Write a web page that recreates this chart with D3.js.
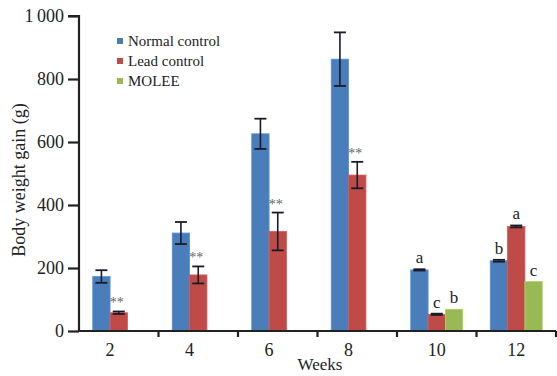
<!DOCTYPE html>
<html lang="en">
<head>
<meta charset="UTF-8">
<title>Body weight gain</title>
<script src="https://d3js.org/d3.v7.min.js"></script>
<style>
  body { margin: 0; background: #fff; }
  svg text { font-family: "Liberation Serif", "Times New Roman", Times, serif; fill: #222; }
</style>
</head>
<body>
<svg id="chart" width="557" height="376"></svg>
<script>
    const weeks = ["2", "4", "6", "8", "10", "12"];
    const seriesNames = ["Normal control", "Lead control", "MOLEE"];
    const colors = ["#4a7ebb", "#be4b48", "#98b954"];

    // mean values per series (null = no bar)
    const normalVals = [173, 311, 626, 863, 194, 223];
    const leadVals = [58, 178, 316, 495, 53, 332];
    const moleeVals = [null, null, null, null, 69, 157];

    const normalErr = [20, 35, 48, 85, 2, 3];
    const leadErr = [4, 27, 60, 42, 2, 3];
    const moleeErr = [0, 0, 0, 0, 0, 0];

    const normalMarks = ["", "", "", "", "a", "b"];
    const leadMarks = ["**", "**", "**", "**", "c", "a"];
    const moleeMarks = ["", "", "", "", "b", "c"];

    const yTicks = [0, 200, 400, 600, 800, 1000];

    const svg = d3.select("#chart");
    const margin = { left: 79, right: 1, top: 16, bottom: 45 };
    const width = 557, height = 376;
    const serif = "'Liberation Serif', 'Times New Roman', serif";

    const x = d3.scaleBand().domain(weeks).range([margin.left, width - margin.right]).padding(0);
    const sub = d3.scaleBand().domain([0, 1, 2]).range([0, 52]);
    const y = d3.scaleLinear().domain([0, 1000]).range([height - margin.bottom, margin.top]);

    const series = [
        { vals: normalVals, err: normalErr, marks: normalMarks },
        { vals: leadVals, err: leadErr, marks: leadMarks },
        { vals: moleeVals, err: moleeErr, marks: moleeMarks }
    ];

    const barX = (w, i) => x(w) + x.bandwidth() / 2 - 26 + sub(i);

    // tick label sits under the centre of the bars present in the group
    const labelX = {};
    weeks.forEach((w, j) => {
        const present = series.map((s, i) => s.vals[j] === null ? null : barX(w, i) + sub.bandwidth() / 2)
            .filter(c => c !== null);
        labelX[w] = d3.mean(present);
    });

    const g = svg.append("g");

    series.forEach((s, i) => {
        weeks.forEach((w, j) => {
            const v = s.vals[j];
            if (v === null) return;
            const x0 = barX(w, i);
            const bw = sub.bandwidth();
            g.append("rect")
                .attr("x", x0).attr("y", y(v))
                .attr("width", bw).attr("height", y(0) - y(v))
                .attr("fill", colors[i])
                .attr("stroke", d3.color(colors[i]).brighter(0.4))
                .attr("stroke-width", 0.8);

            const e = s.err[j];
            const cx = x0 + bw / 2;
            if (e > 0) {
                g.append("line").attr("x1", cx).attr("x2", cx)
                    .attr("y1", y(v + e)).attr("y2", y(v - e))
                    .attr("stroke", "#1a1a2a").attr("stroke-width", 1.6);
                [v + e, v - e].forEach(t => {
                    g.append("line").attr("x1", cx - 6).attr("x2", cx + 6)
                        .attr("y1", y(t)).attr("y2", y(t))
                        .attr("stroke", "#1a1a2a").attr("stroke-width", 1.8);
                });
            }

            const m = s.marks[j];
            if (m) {
                const isStar = m === "**";
                g.append("text")
                    .attr("x", cx + (isStar ? -2 : 0))
                    .attr("y", y(v + e) - (isStar ? 4 : 6))
                    .attr("text-anchor", "middle")
                    .attr("font-family", serif)
                    .style("font-size", isStar ? "14px" : "17px")
                    .style("fill", isStar ? "#666" : "#222")
                    .text(m);
            }
        });
    });

    // y axis
    const yAxis = d3.axisLeft(y).tickValues(yTicks).tickSize(11).tickPadding(4)
        .tickFormat(d => d === 1000 ? "1\u2009000" : d);
    const ya = svg.append("g").attr("transform", `translate(${margin.left},0)`).call(yAxis)
        .attr("font-family", serif);
    ya.select(".domain").attr("stroke", "#222").attr("stroke-width", 2.2).attr("d", `M-11,${y(1000)}H0V${y(0)}`);
    ya.selectAll(".tick line").attr("stroke", "#222").attr("stroke-width", 2.2);
    ya.selectAll(".tick text").style("font-size", "18px");

    // x axis
    const xa = svg.append("g").attr("transform", `translate(0,${y(0)})`)
        .call(d3.axisBottom(x).tickSize(0).tickPadding(12))
        .attr("font-family", serif);
    xa.select(".domain").attr("stroke", "#222").attr("stroke-width", 2.2)
        .attr("d", `M${margin.left},0H${width - margin.right}`);
    xa.selectAll(".tick").attr("transform", d => `translate(${labelX[d]},0)`);
    xa.selectAll(".tick text").style("font-size", "18px");
    weeks.forEach(w => {
        xa.append("line").attr("x1", x(w) + x.bandwidth()).attr("x2", x(w) + x.bandwidth())
            .attr("y1", 0).attr("y2", 6).attr("stroke", "#222").attr("stroke-width", 2.2);
    });

    // axis titles
    svg.append("text").attr("x", 320).attr("y", 370).attr("text-anchor", "middle")
        .attr("font-family", serif).style("font-size", "17px").text("Weeks");
    svg.append("text").attr("transform", "translate(25,180) rotate(-90)").attr("text-anchor", "middle")
        .attr("font-family", serif).style("font-size", "18px").text("Body weight gain (g)");

    // legend
    const leg = svg.append("g").attr("transform", "translate(117,41)").attr("font-family", serif);
    seriesNames.forEach((n, i) => {
        leg.append("rect").attr("x", 0).attr("y", i * 20 - 3).attr("width", 6).attr("height", 6).attr("fill", colors[i]);
        leg.append("text").attr("x", 11).attr("y", i * 20 + 5).style("font-size", "15px").text(n);
    });
</script>
</body>
</html>
